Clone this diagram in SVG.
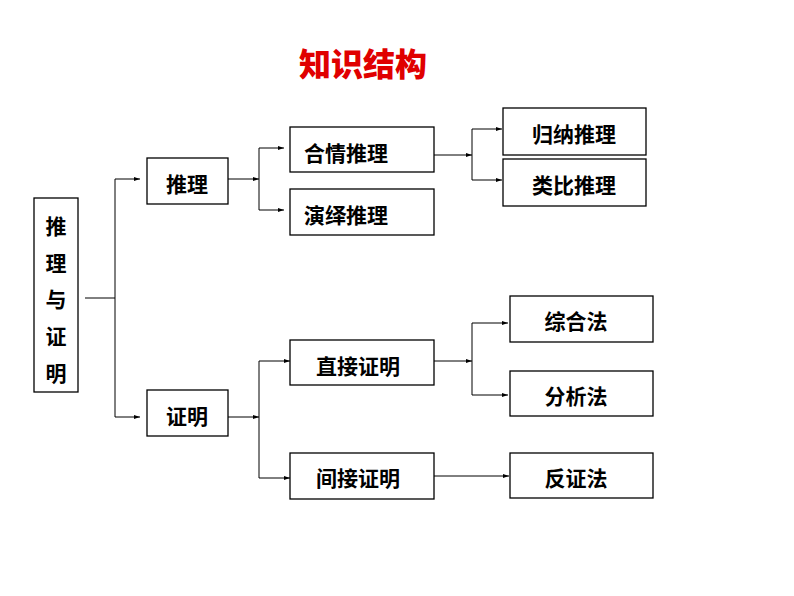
<svg xmlns="http://www.w3.org/2000/svg" width="794" height="596" viewBox="0 0 794 596">
<defs>
<marker id="a" markerWidth="6" markerHeight="6" refX="6" refY="3" orient="auto" markerUnits="userSpaceOnUse"><path d="M0,1 L6,3 L0,5 z" fill="#000"/></marker>
<style>
.b{fill:#fff;stroke:#000;stroke-width:1.3}
.t{font-family:"Noto Sans CJK SC",sans-serif;font-weight:bold;font-size:21px;fill:#000;text-anchor:middle;dominant-baseline:central}
.c{fill:none;stroke:#000;stroke-width:1}
</style>
</defs>
<rect width="794" height="596" fill="#fff"/>
<text x="363" y="62" style="font-family:'Noto Sans CJK SC',sans-serif;font-weight:900;font-size:32px;fill:#e00000;text-anchor:middle;dominant-baseline:central">知识结构</text>
<g id="connectors">
<path class="c" d="M85,298 H115"/>
<path class="c" d="M115,179 V417"/>
<path class="c" d="M115,179 H140" marker-end="url(#a)"/>
<path class="c" d="M115,417 H140" marker-end="url(#a)"/>
<path class="c" d="M228,179 H259" marker-end="url(#a)"/>
<path class="c" d="M259,148 V210"/>
<path class="c" d="M259,148 H284" marker-end="url(#a)"/>
<path class="c" d="M259,210 H284" marker-end="url(#a)"/>
<path class="c" d="M228,417 H259" marker-end="url(#a)"/>
<path class="c" d="M259,361 V478"/>
<path class="c" d="M259,361 H290" marker-end="url(#a)"/>
<path class="c" d="M259,478 H290" marker-end="url(#a)"/>
<path class="c" d="M434,155 H472" marker-end="url(#a)"/>
<path class="c" d="M472,129 V180"/>
<path class="c" d="M472,129 H502" marker-end="url(#a)"/>
<path class="c" d="M472,180 H502" marker-end="url(#a)"/>
<path class="c" d="M434,361 H472" marker-end="url(#a)"/>
<path class="c" d="M472,323 V395"/>
<path class="c" d="M472,323 H508" marker-end="url(#a)"/>
<path class="c" d="M472,395 H508" marker-end="url(#a)"/>
<path class="c" d="M434,476 H509" marker-end="url(#a)"/>
</g>
<g id="root"><rect class="b" x="34" y="198" width="44" height="194"/>
<text class="t" x="56" y="225">推</text><text class="t" x="56" y="262">理</text><text class="t" x="56" y="298">与</text><text class="t" x="56" y="335">证</text><text class="t" x="56" y="372">明</text></g>
<g id="tuili"><rect class="b" x="147" y="158" width="81" height="46"/><text class="t" x="187" y="183">推理</text></g>
<g id="zhengming"><rect class="b" x="147" y="390" width="81" height="46"/><text class="t" x="187" y="415">证明</text></g>
<g id="heqing"><rect class="b" x="290" y="127" width="144" height="45"/><text class="t" x="346" y="152">合情推理</text></g>
<g id="yanyi"><rect class="b" x="290" y="189" width="144" height="46"/><text class="t" x="346" y="214">演绎推理</text></g>
<g id="zhijie"><rect class="b" x="290" y="340" width="144" height="45"/><text class="t" x="358" y="365">直接证明</text></g>
<g id="jianjie"><rect class="b" x="290" y="453" width="144" height="46"/><text class="t" x="358" y="477">间接证明</text></g>
<g id="guina"><rect class="b" x="503" y="108" width="143" height="47"/><text class="t" x="574" y="133">归纳推理</text></g>
<g id="leibi"><rect class="b" x="503" y="159" width="143" height="47"/><text class="t" x="574" y="184">类比推理</text></g>
<g id="zonghe"><rect class="b" x="510" y="296" width="143" height="46"/><text class="t" x="576" y="320">综合法</text></g>
<g id="fenxi"><rect class="b" x="510" y="371" width="143" height="45"/><text class="t" x="576" y="395">分析法</text></g>
<g id="fanzheng"><rect class="b" x="510" y="453" width="143" height="45"/><text class="t" x="576" y="477">反证法</text></g>
</svg>
